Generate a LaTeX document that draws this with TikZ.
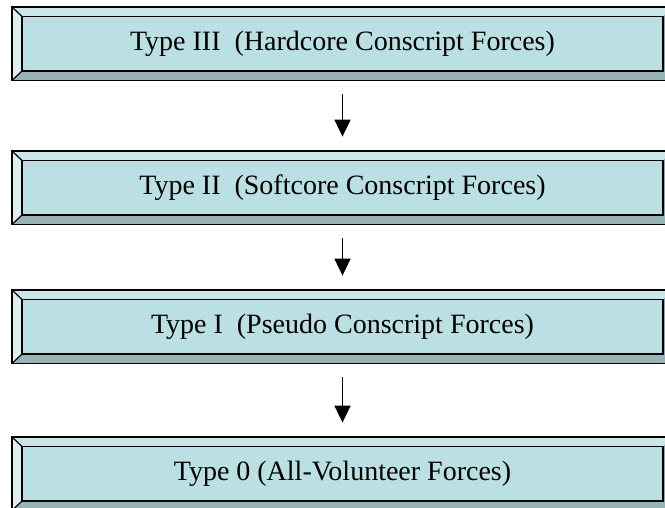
\documentclass[tikz,border=0pt]{standalone}
\usepackage{fontspec}
\setmainfont{Liberation Serif}
\usetikzlibrary{arrows.meta}

\definecolor{facecol}{HTML}{BBE0E3}
\definecolor{topcol}{HTML}{C9E7EA}
\definecolor{leftcol}{HTML}{DCEFF1}
\definecolor{bottomcol}{HTML}{96B3B6}
\definecolor{rightcol}{HTML}{8CA8AB}

\tikzset{
  facebox/.style={draw=black, line width=1.8pt, fill=facecol,
    minimum width=641pt, minimum height=54.5pt, inner sep=0pt,
    font=\fontsize{28}{32}\selectfont},
  bevelline/.style={draw=black, line width=1.2pt},
  arr/.style={draw=black, line width=1.8pt, -{Triangle[width=16pt,length=17pt]}}
}

% bevelled box: #1 node name, #2 top edge y, #3 label
\newcommand\bevelbox[3]{%
  \fill[topcol] (12,#2) -- (673,#2) -- (663,#2+9.5) -- (22,#2+9.5) -- cycle;
  \fill[leftcol] (12,#2) -- (22,#2+9.5) -- (22,#2+64) -- (12,#2+73.5) -- cycle;
  \fill[bottomcol] (12,#2+73.5) -- (22,#2+64) -- (663,#2+64) -- (673,#2+73.5) -- cycle;
  \fill[rightcol] (673,#2) -- (663,#2+9.5) -- (663,#2+64) -- (673,#2+73.5) -- cycle;
  \draw[bevelline] (12,#2) rectangle (673,#2+73.5);
  \draw[bevelline] (12,#2) -- (22,#2+9.5) (12,#2+73.5) -- (22,#2+64);
  \node[facebox] (#1) at (342.5,#2+36.75) {#3};
}

\begin{document}
\begin{tikzpicture}[x=1pt,y=-1pt]
  \useasboundingbox (0,0) rectangle (665,507);
  \fill[white] (0,0) rectangle (665,507);

  \bevelbox{t3}{7}{Type III\ \ (Hardcore Conscript Forces)}
  \bevelbox{t2}{151}{Type II\ \ (Softcore Conscript Forces)}
  \bevelbox{t1}{290}{Type I\ \ (Pseudo Conscript Forces)}
  \bevelbox{t0}{437}{Type 0 (All-Volunteer Forces)}

  \draw[arr] ([yshift=-22pt]t3.south) -- ([yshift=23pt]t2.north);
  \draw[arr] ([yshift=-22pt]t2.south) -- ([yshift=23pt]t1.north);
  \draw[arr] ([yshift=-22pt]t1.south) -- ([yshift=23pt]t0.north);
\end{tikzpicture}
\end{document}
